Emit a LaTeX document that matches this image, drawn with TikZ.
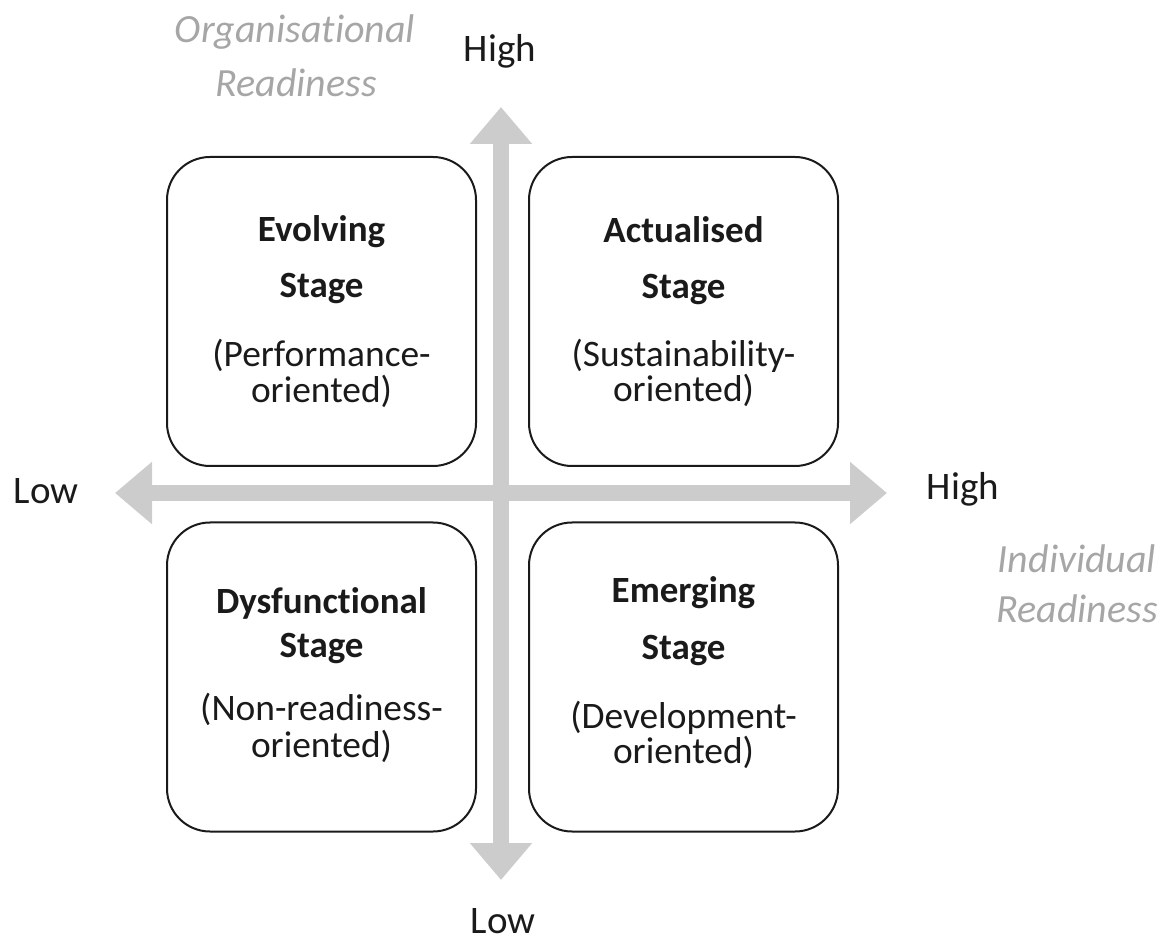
\documentclass[tikz,border=0pt]{standalone}
\usepackage{fontspec}
\setmainfont{Carlito}[Ligatures={NoCommon}]
\usetikzlibrary{arrows.meta}
\definecolor{axisgray}{HTML}{CCCCCC}
\definecolor{labelgray}{HTML}{A6A6A6}
\definecolor{ink}{HTML}{1A1A1A}
\begin{document}
\begin{tikzpicture}[x=0.5pt,y=-0.5pt,
  quad/.style={draw=ink, line width=1pt, rounded corners=21.5pt, minimum width=154.5pt, minimum height=154.5pt, inner sep=0pt},
  ttl/.style={anchor=base, font=\fontsize{18.5}{20}\selectfont\bfseries, text=ink, inner sep=0pt},
  sub/.style={anchor=base, font=\fontsize{18.7}{20}\selectfont, text=ink, inner sep=0pt},
  lvl/.style={anchor=base, font=\fontsize{19.5}{20}\selectfont, text=ink, inner sep=0pt},
  axname/.style={anchor=base, font=\fontsize{20}{20}\selectfont\itshape, text=labelgray, inner sep=0pt},
  axisline/.style={draw=axisgray, line width=8pt, {Triangle[width=30pt,length=18.5pt]}-{Triangle[width=30pt,length=18.5pt]}}]
\useasboundingbox (0,0) rectangle (1169,941);

% axes
\coordinate (vtop) at (501,107);
\coordinate (vbot) at (501,880);
\coordinate (hleft) at (115,493);
\coordinate (hright) at (887,493);
\draw[axisline] (vbot) -- (vtop);
\draw[axisline] (hleft) -- (hright);

% quadrant boxes
\node[quad] (tl) at (321.5,311.5) {};
\node[quad] (tr) at (683.5,311.5) {};
\node[quad] (bl) at (321.5,677) {};
\node[quad] (br) at (683.5,677) {};

% top-left
\node[ttl] (tl1) at (321.5,242) {Evolving};
\node[ttl] (tl2) at (321.5,298) {Stage};
\node[sub] (tl3) at (321.5,367) {(Performance-};
\node[sub] (tl4) at (321.5,403) {oriented)};

% top-right
\node[ttl] (tr1) at (683.5,243) {Actualised};
\node[ttl] (tr2) at (683.5,299) {Stage};
\node[sub] (tr3) at (683.5,367) {(Sustainability-};
\node[sub] (tr4) at (683.5,402) {oriented)};

% bottom-left
\node[ttl] (bl1) at (321.5,613) {Dysfunctional};
\node[ttl] (bl2) at (321.5,657) {Stage};
\node[sub] (bl3) at (321.5,720) {(Non-readiness-};
\node[sub] (bl4) at (321.5,757) {oriented)};

% bottom-right
\node[ttl] (br1) at (683.5,603) {Emerging};
\node[ttl] (br2) at (683.5,660) {Stage};
\node[sub] (br3) at (683.5,728) {(Development-};
\node[sub] (br4) at (683.5,763) {oriented)};

% axis level labels
\node[lvl] (hightop) at (500,62) {High};
\node[lvl] (lowbot) at (503,933) {Low};
\node[lvl] (lowleft) at (46,503) {Low};
\node[lvl] (highright) at (963,500) {High};

% axis names
\node[axname] (org1) at (295,43) {Organisational};
\node[axname] (org2) at (296,97) {Readiness};
\node[axname] (ind1) at (1077,573) {Individual};
\node[axname] (ind2) at (1077,623) {Readiness};
\end{tikzpicture}
\end{document}
